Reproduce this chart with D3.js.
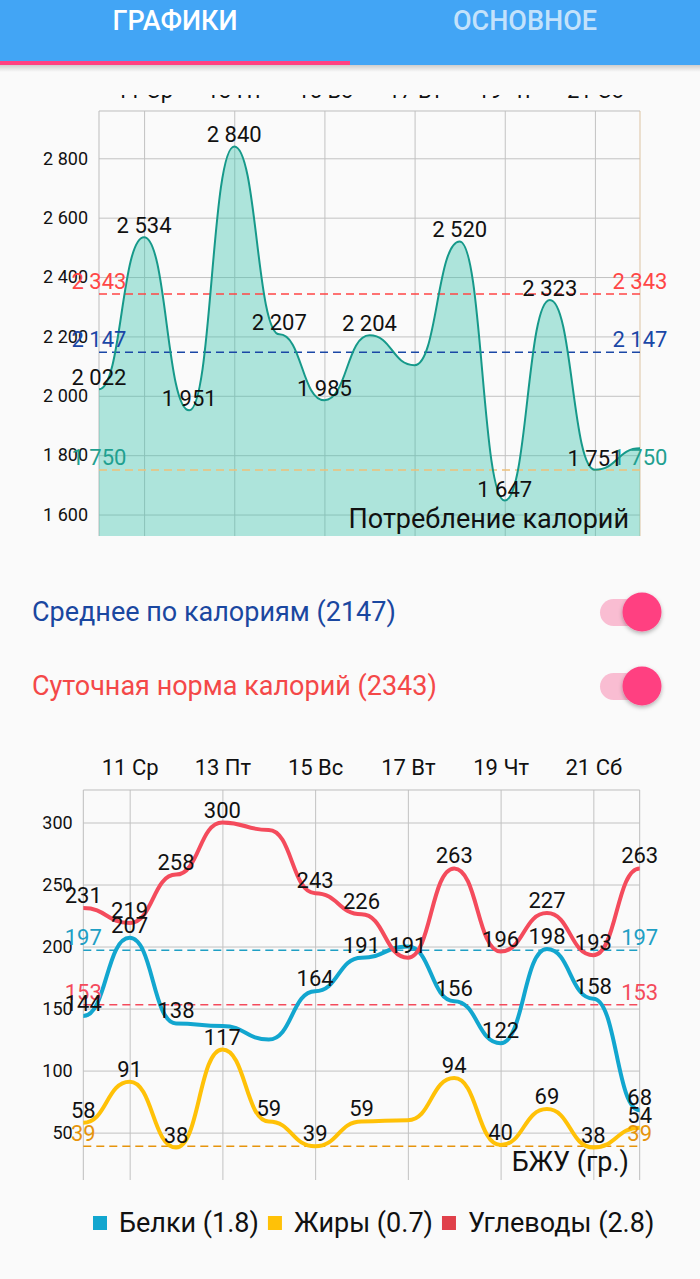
<!DOCTYPE html>
<html><head><meta charset="utf-8">
<script src="https://cdn.jsdelivr.net/npm/d3@7"></script>
<style>
body{margin:0;background:#fafafa;overflow:hidden;}
svg{display:block;font-family:Roboto,"Noto Sans",sans-serif;}
</style>
</head><body>
<svg id="c" width="700" height="1279"></svg>
<script>
// ---------- data ----------
const tabs = ["ГРАФИКИ", "ОСНОВНОЕ"];
const days = [10, 11, 12, 13, 14, 15, 16, 17, 18, 19, 20, 21, 22];
const dayTicks = [11, 13, 15, 17, 19, 21];
const dayTickLabels = ["11 Ср", "13 Пт", "15 Вс", "17 Вт", "19 Чт", "21 Сб"];

const calories = [2022, 2534, 1951, 2840, 2207, 1985, 2204, 2103, 2520, 1647, 2323, 1751, 1823];
const caloriesUnlabeledDays = [17, 22];
const calorieTicks = [1600, 1800, 2000, 2200, 2400, 2600, 2800];
const calorieLimits = [2343, 2147, 1750];
const calorieTitle = "Потребление калорий";

const toggleLabels = ["Среднее по калориям (2147)", "Суточная норма калорий (2343)"];

const protein = [144, 207, 138, 136, 125, 164, 191, 200, 156, 122, 198, 158, 68];
const fat = [58, 91, 38, 117, 59, 39, 59, 60, 94, 40, 69, 38, 54];
const carbs = [231, 219, 258, 300, 294, 243, 226, 191, 263, 196, 227, 193, 263];
const proteinUnlabeledDays = [13, 14, 17];
const fatUnlabeledDays = [17];
const carbsUnlabeledDays = [14];
const macroTicks = [50, 100, 150, 200, 250, 300];
const macroLimits = [197, 153, 39];
const macroTitle = "БЖУ (гр.)";
const legendNames = ["Белки (1.8)", "Жиры (0.7)", "Углеводы (2.8)"];

// ---------- styles ----------
const C = {
  header: "#42a5f5", accent: "#ff4081",
  calLine: "#16998a", calFill: "rgb(58,195,172)",
  grid: "#c2c2c2", text: "#111",
  calLimitColors: ["#ff4646", "#1a47a6", "#eec07a"],
  calLimitText: ["#ff4646", "#1a47a6", "#1fa090"],
  protein: "#12a6cf", fat: "#ffc107", carbs: "#f44b5c",
  macroLimitColors: ["#1f9fc4", "#f44b5c", "#e6940c"],
  legend: ["#12a6cf", "#ffc107", "#e0404a"],
  toggleText: ["#1a47a0", "#f44848"]
};

const ru = d3.formatLocale({decimal: ",", thousands: "\u00a0", grouping: [3], currency: ["", ""]});
const fmtCal = ru.format(",d");
const fmtInt = d3.format("d");

const svg = d3.select("#c");
svg.append("rect").attr("width", 700).attr("height", 1279).attr("fill", "#fafafa");
const defs = svg.append("defs");

function paddedDomain(arrs) {
  const all = arrs.flat();
  const mn = d3.min(all), mx = d3.max(all), r = mx - mn;
  return [mn - 0.1 * r, mx + 0.1 * r];
}

function drawChart(g, opt) {
  const x = d3.scaleLinear().domain(d3.extent(days)).range([opt.left, opt.right]);
  const y = d3.scaleLinear().domain(paddedDomain(opt.series.map(s => s.values))).range([opt.bottom, opt.top]);
  const h = opt.bottom - opt.top, w = opt.right - opt.left;

  // horizontal grid + y labels
  const ya = g.append("g").attr("transform", `translate(${opt.left},0)`)
    .call(d3.axisLeft(y).tickValues(opt.yTicks).tickFormat(opt.fmt).tickSize(-w).tickPadding(opt.yPad));
  ya.select(".domain").remove();
  ya.selectAll(".tick line").attr("stroke", C.grid).attr("stroke-width", 1);
  ya.selectAll(".tick text").attr("fill", C.text).attr("font-size", 18).attr("font-family", "Roboto");

  // vertical grid + x labels
  const holder = g.append("g");
  if (opt.xClip) holder.attr("clip-path", "url(#" + opt.xClip + ")");
  const xa = holder.append("g").attr("transform", `translate(0,${opt.top})`)
    .call(d3.axisTop(x).tickValues(dayTicks).tickFormat((d, i) => dayTickLabels[i]).tickSize(-h).tickPadding(opt.xPad));
  xa.select(".domain").remove();
  xa.selectAll(".tick line").attr("stroke", C.grid).attr("stroke-width", 1);
  xa.selectAll(".tick text").attr("fill", C.text).attr("font-size", 22).attr("font-family", "Roboto");

  // frame (left, top, right)
  g.append("line").attr("x1", opt.left).attr("x2", opt.left).attr("y1", opt.top).attr("y2", opt.bottom).attr("stroke", "#bdbdbd");
  g.append("line").attr("x1", opt.left).attr("x2", opt.right).attr("y1", opt.top).attr("y2", opt.top).attr("stroke", "#bdbdbd");
  g.append("line").attr("x1", opt.right).attr("x2", opt.right).attr("y1", opt.top).attr("y2", opt.bottom).attr("stroke", opt.rightBorder || "#bdbdbd");

  // fill (area)
  opt.series.forEach(s => {
    if (!s.fill) return;
    const area = d3.area().x((d, i) => x(days[i])).y0(opt.bottom).y1(d => y(d)).curve(d3.curveBumpX);
    g.append("path").attr("d", area(s.values)).attr("fill", s.fill).attr("fill-opacity", 0.4);
  });

  // limit lines
  opt.limits.forEach((v, i) => {
    g.append("line").attr("x1", opt.left).attr("x2", opt.right).attr("y1", y(v)).attr("y2", y(v))
      .attr("stroke", opt.limitColors[i]).attr("stroke-width", 1.5).attr("stroke-dasharray", "8,5");
  });

  // lines
  opt.series.forEach(s => {
    const line = d3.line().x((d, i) => x(days[i])).y(d => y(d)).curve(d3.curveBumpX);
    g.append("path").attr("d", line(s.values)).attr("fill", "none").attr("stroke", s.color)
      .attr("stroke-width", s.width).attr("stroke-linejoin", "round");
  });

  // limit labels (both edges)
  opt.limits.forEach((v, i) => {
    [opt.left, opt.right].forEach(px => {
      g.append("text").attr("x", px).attr("y", y(v) - 5).attr("text-anchor", "middle")
        .attr("font-size", 22).attr("fill", opt.limitText[i]).text(opt.fmt(v));
    });
  });

  // value labels
  opt.series.forEach(s => {
    s.values.forEach((v, i) => {
      if (s.hidden.includes(days[i])) return;
      g.append("text").attr("x", x(days[i])).attr("y", y(v) - opt.valOff).attr("text-anchor", "middle")
        .attr("font-size", 22).attr("fill", C.text).text(opt.fmt(v));
    });
  });

  // description
  g.append("text").attr("x", opt.descX).attr("y", opt.descY).attr("text-anchor", "end")
    .attr("font-size", 27).attr("fill", C.text).text(opt.title);
}

// clip for the top chart's x labels (scrolled under the toolbar)
defs.append("clipPath").attr("id", "topclip")
  .append("rect").attr("x", 0).attr("y", 95).attr("width", 700).attr("height", 600);

drawChart(svg.append("g"), {
  left: 99, right: 640, top: 111, bottom: 536, yPad: 11, xPad: 13, xClip: "topclip",
  yTicks: calorieTicks, fmt: fmtCal, valOff: 4,
  series: [{values: calories, color: C.calLine, width: 2, fill: C.calFill, hidden: caloriesUnlabeledDays}],
  limits: calorieLimits, limitColors: C.calLimitColors, limitText: C.calLimitText,
  rightBorder: "#dcc3a2",
  title: calorieTitle, descX: 629, descY: 528
});

drawChart(svg.append("g"), {
  left: 83.3, right: 639.7, top: 790, bottom: 1180, yPad: 10.6, xPad: 15,
  yTicks: macroTicks, fmt: fmtInt, valOff: 5,
  series: [
    {values: protein, color: C.protein, width: 4, hidden: proteinUnlabeledDays},
    {values: fat, color: C.fat, width: 4, hidden: fatUnlabeledDays},
    {values: carbs, color: C.carbs, width: 4, hidden: carbsUnlabeledDays}
  ],
  limits: macroLimits, limitColors: C.macroLimitColors, limitText: C.macroLimitColors,
  title: macroTitle, descX: 629, descY: 1171
});

// ---------- toggles ----------
const sh = defs.append("filter").attr("id", "sh").attr("x", "-50%").attr("y", "-50%").attr("width", "200%").attr("height", "200%");
sh.append("feDropShadow").attr("dx", 0).attr("dy", 2).attr("stdDeviation", 2).attr("flood-color", "#000").attr("flood-opacity", 0.3);

toggleLabels.forEach((t, i) => {
  const cy = 612 + i * 74;
  svg.append("text").attr("x", 32).attr("y", cy + 9).attr("font-size", 27).attr("fill", C.toggleText[i]).text(t);
  svg.append("rect").attr("x", 600).attr("y", cy - 13).attr("width", 44).attr("height", 27).attr("rx", 13.5).attr("fill", "#f9bdd2");
  svg.append("circle").attr("cx", 642).attr("cy", cy).attr("r", 19.5).attr("fill", "#ff4081").attr("filter", "url(#sh)");
});

// ---------- legend ----------
let lx = 93;
legendNames.forEach((n, i) => {
  svg.append("rect").attr("x", lx).attr("y", 1216).attr("width", 14).attr("height", 14).attr("fill", C.legend[i]);
  const t = svg.append("text").attr("x", lx + 26).attr("y", 1232).attr("font-size", 27).attr("fill", C.text).text(n);
  lx += 26 + t.node().getComputedTextLength() + 9;
});

// ---------- header ----------
const grad = defs.append("linearGradient").attr("id", "hs").attr("x1", 0).attr("x2", 0).attr("y1", 0).attr("y2", 1);
grad.append("stop").attr("offset", 0).attr("stop-color", "#000").attr("stop-opacity", 0.18);
grad.append("stop").attr("offset", 1).attr("stop-color", "#000").attr("stop-opacity", 0);
svg.append("rect").attr("x", 0).attr("y", 65).attr("width", 700).attr("height", 7).attr("fill", "url(#hs)");
svg.append("rect").attr("x", 0).attr("y", 0).attr("width", 700).attr("height", 65).attr("fill", C.header);
svg.append("rect").attr("x", 0).attr("y", 61).attr("width", 350).attr("height", 4).attr("fill", C.accent);
tabs.forEach((t, i) => {
  svg.append("text").attr("x", 175 + i * 350).attr("y", 30).attr("text-anchor", "middle")
    .attr("font-size", 27).attr("font-weight", 500).attr("fill", i === 0 ? "#fff" : "rgba(255,255,255,0.7)").text(t);
});
</script>
</body></html>
